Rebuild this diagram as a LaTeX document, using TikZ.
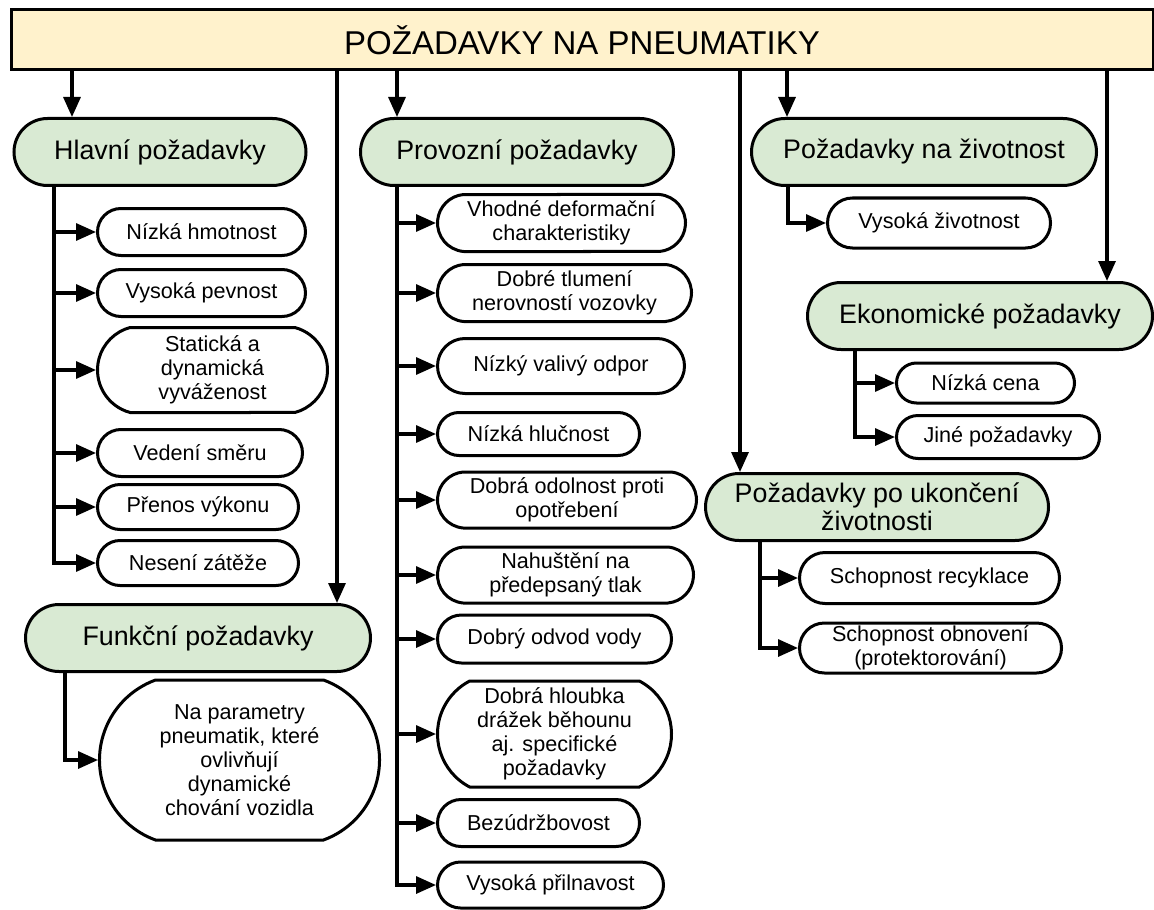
\documentclass[tikz,border=0pt]{standalone}
\usepackage{fontspec}
\setmainfont{Liberation Sans}
\usetikzlibrary{arrows.meta,positioning,shapes.misc}
\definecolor{cream}{RGB}{255,242,204}
\definecolor{sage}{RGB}{217,234,211}
\definecolor{ink}{RGB}{0,0,0}
\tikzset{
  >={Triangle[length=10pt,width=8.5pt]},
  titlebox/.style={draw=ink,fill=cream,line width=1.5pt,minimum width=571pt,minimum height=30pt,
    inner sep=0pt,font=\fontsize{16.5}{19}\selectfont},
  group/.style={rounded rectangle,draw=ink,fill=sage,line width=1.5pt,inner sep=0pt,
    minimum height=33.5pt,align=center,font=\fontsize{13.4}{14}\selectfont},
  item/.style={rounded rectangle,draw=ink,fill=white,line width=1.5pt,inner sep=0pt,
    align=center,font=\fontsize{10.8}{12}\selectfont},
  feed/.style={->,line width=1.6pt,draw=ink},
}

\begin{document}
\begin{tikzpicture}[x=0.5pt,y=-0.5pt]
  \useasboundingbox (0,0) rectangle (1154,909);
  \node[titlebox] (title) at (582,40) {POŽADAVKY NA PNEUMATIKY};
  % main groups
  \node[group,minimum width=146pt] (hl) at (160,152) {Hlavní požadavky};
  \node[group,minimum width=156.5pt] (pr) at (517,152) {Provozní požadavky};
  \node[group,minimum width=172.5pt] (zv) at (924,152) {Požadavky na životnost};
  \node[group,minimum width=172.5pt] (ek) at (980,316) {Ekonomické požadavky};
  \node[group,minimum width=171.5pt] (uk) at (877,507) {Požadavky po ukončení\\životnosti};
  \node[group,minimum width=172.5pt] (fn) at (198,638) {Funkční požadavky};
  % feeds from the title
  \coordinate (tH) at (72,0);
  \coordinate (tF) at (337,0);
  \coordinate (tP) at (397,0);
  \coordinate (tU) at (740,0);
  \coordinate (tZ) at (787,0);
  \coordinate (tE) at (1107,0);
  \foreach \c/\g in {tH/hl,tF/fn,tP/pr,tU/uk,tZ/zv,tE/ek}
    \draw[feed] (title.south -| \c) -- (\g.north -| \c);
  % trunks
  \coordinate (bH) at (54,0);
  \coordinate (bF) at (65,0);
  \coordinate (bP) at (397,0);
  \coordinate (bZ) at (788,0);
  \coordinate (bE) at (855,0);
  \coordinate (bU) at (760,0);
  \foreach \t/\y/\w/\h/\a [count=\i] in {
    Nízká hmotnost/232/104/23.5/180,
    Vysoká pevnost/293/104/23.5/180,
    {Statická a\\dynamická\\vyváženost}/370/115/42.5/150,
    Vedení směru/453/102.5/23.5/180,
    Přenos výkonu/507/100.5/22.5/180,
    Nesení zátěže/563/100.5/22.5/180}
  {
    \node[item,anchor=west,minimum width=\w pt,minimum height=\h pt,rounded rectangle arc length=\a] (h\i) at (96,\y) {\t};
    \draw[feed] (hl.south -| bH) |- (h\i.west);
  }
  \foreach \t/\y/\w/\h/\a [count=\i] in {
    {Vhodné deformační\\charakteristiky}/223/124/28.5/170,
    {Dobré tlumení\\nerovností vozovky}/293/127/28.5/170,
    Nízký valivý odpor/366/123.5/27.5/180,
    Nízká hlučnost/434/101/21.5/180,
    {Dobrá odolnost proti\\opotřebení}/500/129.5/28/170,
    {Nahuštění na\\předepsaný tlak}/575/128/28/170,
    Dobrý odvod vody/639/117/24/180,
    {Dobrá hloubka\\drážek běhounu\\aj. specifické\\požadavky}/734/117/53/125,
    Bezúdržbovost/823/101/23.5/180,
    Vysoká přilnavost/885/113/23/180}
  {
    \node[item,anchor=west,minimum width=\w pt,minimum height=\h pt,rounded rectangle arc length=\a] (p\i) at (436,\y) {\t};
    \draw[feed] (pr.south -| bP) |- (p\i.west);
  }
  \node[item,anchor=west,minimum width=111.5pt,minimum height=25pt] (z1) at (826,223) {Vysoká životnost};
  \draw[feed] (zv.south -| bZ) |- (z1.west);
  \foreach \t/\y/\w/\h [count=\i] in {
    Nízká cena/383/89/20,
    Jiné požadavky/437/101.5/21.5}
  {
    \node[item,anchor=west,minimum width=\w pt,minimum height=\h pt] (e\i) at (895,\y) {\t};
    \draw[feed] (ek.south -| bE) |- (e\i.west);
  }
  \foreach \t/\y/\w/\h [count=\i] in {
    Schopnost recyklace/578/130/25.5,
    {Schopnost obnovení\\(protektorování)}/648/131/25}
  {
    \node[item,anchor=west,minimum width=\w pt,minimum height=\h pt] (u\i) at (798,\y) {\t};
    \draw[feed] (uk.south -| bU) |- (u\i.west);
  }
  \node[item,anchor=west,minimum width=140pt,minimum height=80pt,rounded rectangle arc length=140] (f1) at (98,760)
    {Na parametry\\pneumatik, které\\ovlivňují\\dynamické\\chování vozidla};
  \draw[feed] (fn.south -| bF) |- (f1.west);
\end{tikzpicture}
\end{document}
